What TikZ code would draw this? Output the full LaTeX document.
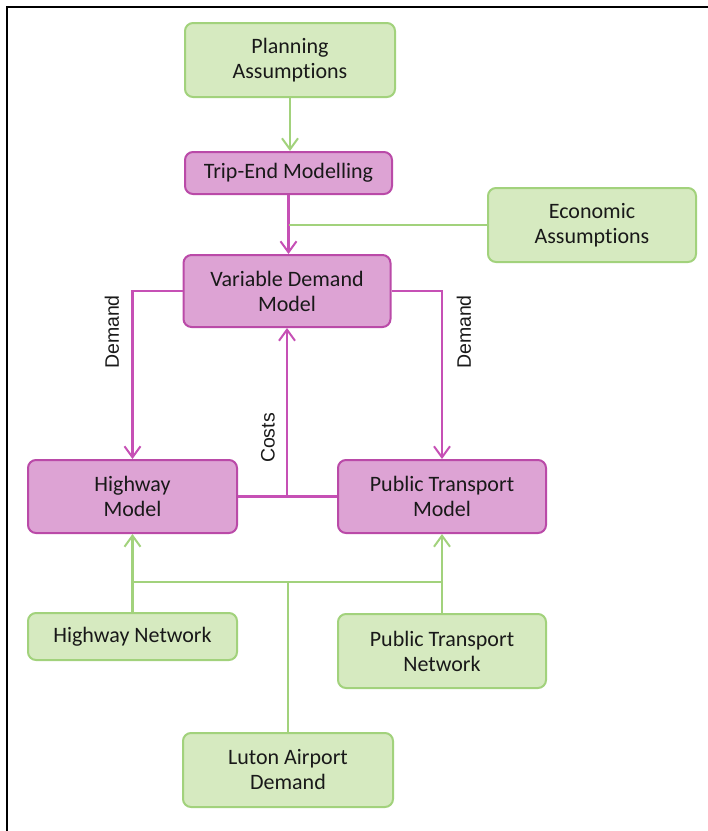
\documentclass[tikz,border=0pt]{standalone}
\usepackage{fontspec}
\setmainfont{Carlito}[Ligatures=NoCommon]
\newfontfamily\lblfont{Liberation Sans}
\usetikzlibrary{arrows.meta}

\definecolor{inpfill}{HTML}{D6EAC0}
\definecolor{inpdraw}{HTML}{A2D27C}
\definecolor{modfill}{HTML}{DDA3D4}
\definecolor{moddraw}{HTML}{BA4AA8}
\definecolor{modline}{HTML}{C650B5}

\tikzset{
  box/.style={rounded corners=8pt, line width=2pt, align=center,
    font=\fontsize{22}{25}\selectfont, text=black!90},
  inpbox/.style={box, fill=inpfill, draw=inpdraw},
  modbox/.style={box, fill=modfill, draw=moddraw},
  tip/.style={-{Straight Barb[length=11pt,width=16pt,line width=2pt]}},
  inpline/.style={draw=inpdraw, line width=2.5pt},
  modline/.style={draw=modline, line width=2.5pt},
  lbl/.style={font=\lblfont\fontsize{19.5}{21}\selectfont, text=black!90, rotate=90}
}

\begin{document}
\begin{tikzpicture}[x=1pt,y=-1pt]
\useasboundingbox (0,0) rectangle (708,831);
% frame
\draw[line width=2pt] (7,831) -- (7,7) -- (708,7);

% inputs
\node[inpbox, minimum width=210pt, minimum height=74pt] (plan) at (290,60) {Planning\\Assumptions};
\node[inpbox, minimum width=208pt, minimum height=74pt] (econ) at (592,225) {Economic\\Assumptions};
\node[inpbox, minimum width=209pt, minimum height=47pt] (hwynet) at (132.5,636.5) {Highway Network};
\node[inpbox, minimum width=208pt, minimum height=74pt] (ptnet) at (442,651) {Public Transport\\Network};
\node[inpbox, minimum width=210pt, minimum height=74pt] (luton) at (288,770) {Luton Airport\\Demand};

% models
\node[modbox, minimum width=207pt, minimum height=42pt] (trip) at (288.5,173) {Trip-End Modelling};
\node[modbox, minimum width=207pt, minimum height=72pt] (vdm) at (287,291) {Variable Demand\\Model};
\node[modbox, minimum width=209pt, minimum height=73pt] (hwy) at (132.5,496.5) {Highway\\Model};
\node[modbox, minimum width=208pt, minimum height=73pt] (pt) at (442,496.5) {Public Transport\\Model};

\coordinate (join) at (288,582);

% top chain
\draw[inpline, tip] (plan.south) -- (plan.south |- trip.north);
\draw[modline, tip] (trip.south) -- (trip.south |- vdm.north);
\draw[inpline] (econ.west) -- (econ.west -| trip.south);

% demand and costs
\draw[modline, tip] (vdm.west) -| (hwy.north);
\draw[modline, tip] (vdm.east) -| (pt.north);
\draw[modline] (hwy.east) -- (pt.west);
\draw[modline, tip] (hwy.east -| vdm.south) -- (vdm.south);
\node[lbl] (dleft) at (112,332) {Demand};
\node[lbl] (dright) at (464,332) {Demand};
\node[lbl] (costs) at (268,438) {Costs};

% network inputs
\draw[inpline, tip] (hwynet.north) -- (hwy.south);
\draw[inpline, tip] (ptnet.north) -- (pt.south);
\draw[inpline] (hwy.south |- join) -- (pt.south |- join);
\draw[inpline] (luton.north) -- (join);
\end{tikzpicture}
\end{document}
